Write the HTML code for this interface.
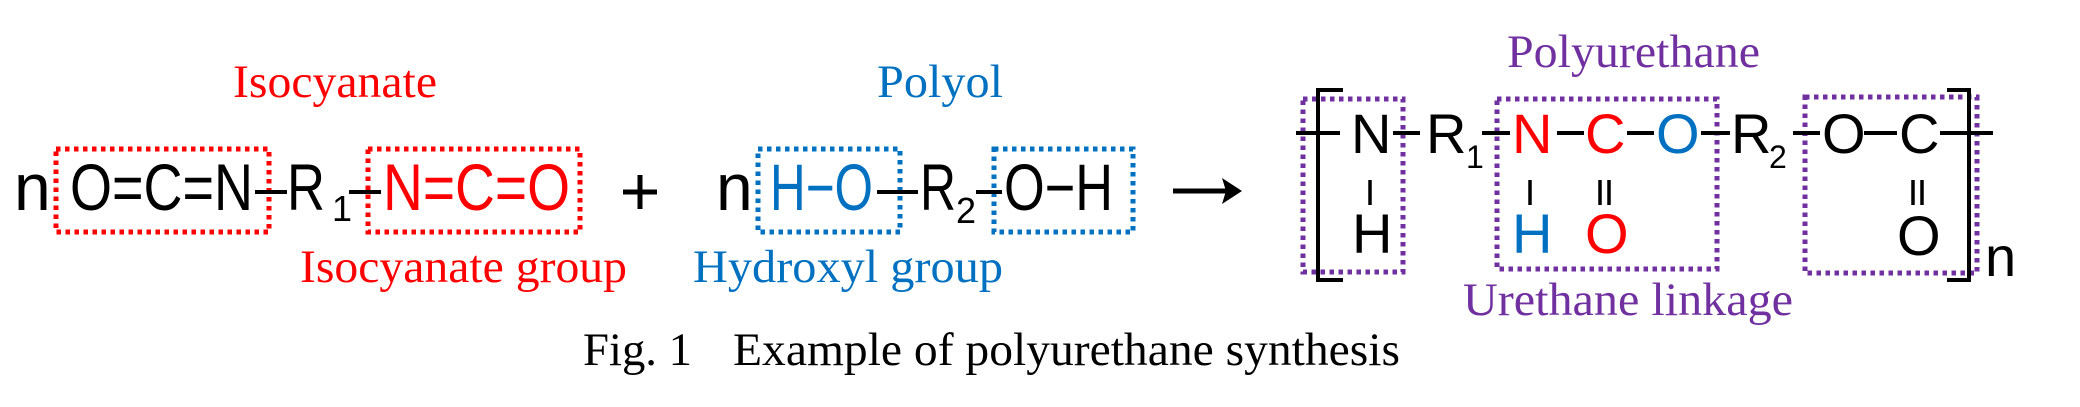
<!DOCTYPE html>
<html><head><meta charset="utf-8"><style>
html,body{margin:0;padding:0;background:#fff;}
svg{display:block;}
.s{font-family:"Liberation Sans",Arial,sans-serif;}
.t{font-family:"Liberation Serif","Times New Roman",serif;}
</style></head><body>
<svg width="2080" height="407" viewBox="0 0 2080 407" xmlns="http://www.w3.org/2000/svg">
<g fill="none" stroke-width="5" stroke-dasharray="4.5 4.5">
<rect x="56" y="149" width="213" height="83" stroke="#FF0000"/>
<rect x="368" y="149" width="212" height="83" stroke="#FF0000"/>
<rect x="758" y="149" width="142" height="83" stroke="#0070C0"/>
<rect x="994" y="149" width="139" height="83" stroke="#0070C0"/>
<rect x="1303" y="99" width="100" height="173" stroke="#7030A0"/>
<rect x="1497" y="99" width="220" height="170" stroke="#7030A0"/>
<rect x="1805" y="97" width="172" height="176" stroke="#7030A0"/>
</g>
<g class="t" font-size="47">
<text x="233" y="97" fill="#FF0000" textLength="204" lengthAdjust="spacingAndGlyphs">Isocyanate</text>
<text x="877" y="97" fill="#0070C0" textLength="126" lengthAdjust="spacingAndGlyphs">Polyol</text>
<text x="300" y="282" fill="#FF0000" textLength="327" lengthAdjust="spacingAndGlyphs">Isocyanate group</text>
<text x="693" y="282" fill="#0070C0" textLength="310" lengthAdjust="spacingAndGlyphs">Hydroxyl group</text>
<text x="1507" y="67" fill="#7030A0" textLength="253" lengthAdjust="spacingAndGlyphs">Polyurethane</text>
<text x="1463" y="315" fill="#7030A0" textLength="330" lengthAdjust="spacingAndGlyphs">Urethane linkage</text>
<text x="583" y="365" fill="#000" textLength="109" lengthAdjust="spacingAndGlyphs">Fig. 1</text>
<text x="733" y="365" fill="#000" textLength="667" lengthAdjust="spacingAndGlyphs">Example of polyurethane synthesis</text>
</g>
<g class="s" font-size="66">
<text x="14" y="210">n</text>
<text x="70" y="210" textLength="183" lengthAdjust="spacingAndGlyphs">O=C=N</text>
<text x="287" y="210" textLength="38" lengthAdjust="spacingAndGlyphs">R</text>
<text x="383" y="210" fill="#FF0000" textLength="187" lengthAdjust="spacingAndGlyphs">N=C=O</text>
<text x="716" y="210">n</text>
<text x="770" y="210" fill="#0070C0" textLength="103" lengthAdjust="spacingAndGlyphs">H−O</text>
<text x="920" y="210" textLength="36" lengthAdjust="spacingAndGlyphs">R</text>
<text x="1004" y="210" textLength="109" lengthAdjust="spacingAndGlyphs">O−H</text>
</g>
<g class="s" font-size="36">
<text x="332" y="221">1</text>
<text x="956" y="223">2</text>
</g>
<g stroke="#000" stroke-width="4">
<line x1="255" y1="192" x2="287" y2="192"/>
<line x1="349" y1="192" x2="381" y2="192"/>
<line x1="877" y1="192" x2="918" y2="192"/>
<line x1="976" y1="192" x2="1002" y2="192"/>
<line x1="623" y1="192" x2="657" y2="192" stroke-width="5"/>
<line x1="640" y1="175" x2="640" y2="209" stroke-width="5"/>
<line x1="1173" y1="191" x2="1232" y2="191" stroke-width="5"/>
</g>
<polygon points="1242,191 1222,178 1226,191 1222,204" fill="#000"/>
<g stroke="#000" stroke-width="4" fill="none">
<polyline points="1343,90 1318,90 1318,280 1343,280"/>
<polyline points="1947,90 1969,90 1969,280 1947,280"/>
<line x1="1296" y1="133" x2="1340" y2="133"/>
<line x1="1393" y1="133" x2="1420" y2="133"/>
<line x1="1482" y1="133" x2="1510" y2="133"/>
<line x1="1557" y1="133" x2="1584" y2="133"/>
<line x1="1627" y1="133" x2="1654" y2="133"/>
<line x1="1701" y1="133" x2="1730" y2="133"/>
<line x1="1793" y1="133" x2="1820" y2="133"/>
<line x1="1864" y1="133" x2="1897" y2="133"/>
<line x1="1940" y1="133" x2="1993" y2="133"/>
<line x1="1370" y1="180" x2="1370" y2="205" stroke-width="3.5"/>
<line x1="1530" y1="180" x2="1530" y2="205" stroke-width="3.5"/>
<line x1="1600" y1="180" x2="1600" y2="205" stroke-width="3.5"/>
<line x1="1609" y1="180" x2="1609" y2="205" stroke-width="3.5"/>
<line x1="1913" y1="180" x2="1913" y2="205" stroke-width="3.5"/>
<line x1="1922" y1="180" x2="1922" y2="205" stroke-width="3.5"/>
</g>
<g class="s" font-size="56">
<text x="1351" y="153">N</text>
<text x="1426" y="153">R</text>
<text x="1512" y="153" fill="#FF0000">N</text>
<text x="1585" y="153" fill="#FF0000">C</text>
<text x="1656" y="153" fill="#0070C0">O</text>
<text x="1731" y="153">R</text>
<text x="1822" y="153">O</text>
<text x="1899" y="153">C</text>
<text x="1352" y="253">H</text>
<text x="1512" y="253" fill="#0070C0">H</text>
<text x="1585" y="253" fill="#FF0000">O</text>
<text x="1897" y="255">O</text>
<text x="1985" y="276">n</text>
</g>
<g class="s" font-size="32">
<text x="1466" y="168">1</text>
<text x="1769" y="168">2</text>
</g>
</svg>
</body></html>
